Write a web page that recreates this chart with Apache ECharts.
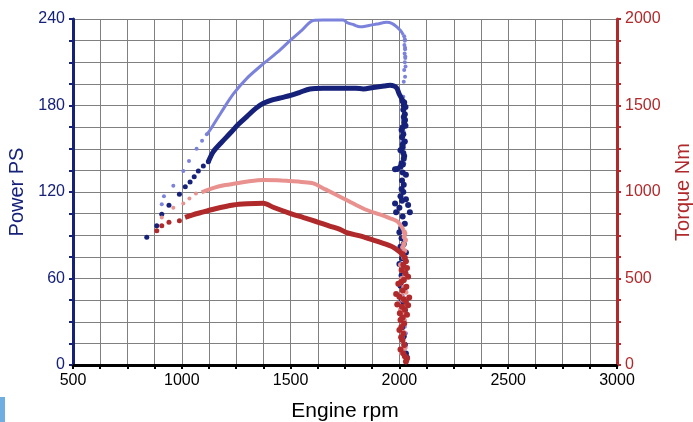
<!DOCTYPE html>
<html>
<head>
<meta charset="utf-8">
<script src="https://cdn.jsdelivr.net/npm/echarts@6/dist/echarts.min.js"></script>
<style>
html,body{margin:0;padding:0;background:#fff;}
#chart{width:693px;height:422px;}
</style>
</head>
<body>
<div id="chart"></div>
<script>
// ---- Axis ranges ----
const rpmRange = [500, 3000, 500];
const powerRange = [0, 240, 60];
const torqueRange = [0, 2000, 500];

// ---- Power run A (dark navy), PS ----
const powerA_start = [[839,88.6],[885,96.6],[908,104.5],[941,110.8],[989,118.4],[1016,123.7],[1038,127],[1057,130.6],[1076,134.5],[1099,138],[1122,141]];
const powerA_curve = [[1122,141],[1145,148],[1180,154],[1222,160.7],[1260,167],[1300,172.5],[1340,178],[1375,181.5],[1420,184],[1460,185.5],[1500,187],[1540,189],[1589,191.5],[1650,192],[1700,192],[1750,192],[1800,192],[1834,191.5],[1880,192.5],[1930,193.5],[1957,194],[1975,193.5],[1988,192],[1999,188],[2008,185.5],[2014,183]];
const powerA_tail = [[2015,183],[2022,182],[2020,180],[2028,179],[2018,177],[2025,174],[2020,172],[2026,170],[2022,168],[2028,166],[2015,165],[2010,163],[2018,160],[2012,158],[2025,155],[2015,153],[2015,151],[2005,149],[2018,147],[2022,145],[2020,143],[2010,140],[2016,139],[2005,137.5],[1980,135.7],[1990,136],[2015,133.5],[2030,132],[2012,128],[2020,125],[2010,122],[2018,120],[2005,117],[2030,115],[2012,114],[1980,112],[2040,111],[2000,109],[1985,106],[2048,106],[2015,103],[2025,98],[2008,95],[2000,92],[2010,88],[2020,84],[2005,82],[2030,78],[2012,74],[2000,70],[2025,67],[2010,62],[2018,59],[2005,55],[2022,52],[2010,46],[2015,43],[2025,38],[2008,36],[2018,31],[2012,26],[2020,20],[2025,14],[2030,8],[2035,5]];

// ---- Power run B (light blue), PS ----
const powerB_start = [[908,111.5],[918,117],[961,124.4],[1007,134.5],[1033,141.5],[1068,150],[1093,155.6],[1115,160]];
const powerB_curve = [[1115,160],[1130,163],[1180,175],[1237,188],[1300,199],[1375,209],[1440,217],[1497,225],[1550,232],[1604,239],[1650,239.3],[1700,239.3],[1742,239.3],[1760,237.5],[1790,236],[1819,234.6],[1860,235.5],[1896,236.5],[1942,237.7],[1965,237],[1988,234.6],[2005,232],[2018,229]];
const powerB_tail = [[2022,228],[2025,226],[2025,225],[2023,222],[2026,220],[2026,219],[2024,216],[2027,214],[2027,213],[2025,210],[2028,207],[2022,204.6],[2026,200],[2020,196.5],[2018,186],[2015,170],[2020,161.8],[2012,155],[2022,140],[2015,120],[2018,98],[2012,80],[2020,64.7],[2010,56.7],[2015,48],[2022,40.4],[2018,34.7],[2025,26.6],[2030,22],[2020,18.7],[2028,12],[2032,6]];

// ---- Torque run B (pink), Nm ----
const torqueB_start = [[908,853],[961,909],[1007,934],[1035,963],[1065,992]];
const torqueB_curve = [[1091,998],[1150,1025],[1200,1040],[1252,1050],[1310,1062],[1375,1069],[1440,1068],[1497,1063],[1550,1058],[1604,1050],[1660,1015],[1727,973],[1790,932],[1850,896],[1910,870],[1957,848],[1990,830],[2010,800],[2018,780]];
const torqueB_tail = [[2022,770],[2025,760],[2022,740],[2028,722],[2020,700],[2015,680],[2025,660],[2010,640],[2020,620],[2030,600],[2005,580],[2018,549],[2025,520],[2010,500],[2000,470],[2020,450],[2030,420],[2008,400],[2015,376],[1995,355],[2025,337],[2005,320],[2018,300],[2010,280],[2022,260],[2015,241],[2005,220],[2020,190],[2012,160],[2018,127],[2025,100],[2010,70],[2030,40],[2035,29]];

// ---- Torque run A (dark red), Nm ----
const torqueA_start = [[885,776],[908,805],[941,825],[989,834]];
const torqueA_curve = [[1015,853],[1050,868],[1084,880],[1150,902],[1237,925],[1300,932],[1375,935],[1420,912],[1497,877],[1560,852],[1620,828],[1680,803],[1727,784],[1758,765],[1819,746],[1880,722],[1926,703],[1960,688],[1980,674],[1995,660],[2011,645]];
const torqueA_tail = [[2015,640],[2025,620],[2030,600],[2018,580],[2035,560],[2010,549],[2028,530],[2040,510],[2020,491],[2008,480],[1995,470],[2032,452],[2015,430],[1985,410],[2000,395],[2045,390],[2020,380],[2030,366],[1990,350],[2040,345],[2012,337],[2025,320],[2002,299],[2035,290],[2015,275],[2005,260],[2022,240],[2010,220],[2000,202],[2018,180],[2008,160],[2014,145],[2022,116],[2005,90],[2018,68],[2025,50],[2035,39],[2030,20]];

const NAVY = '#16217a', LBLUE = '#7b82dc', PINK = '#e8918e', DRED = '#b0292b';
const GRIDC = '#808080';
const FONT = 'Liberation Sans, Arial, sans-serif';
const plain = v => String(v);

const chart = echarts.init(document.getElementById('chart'), null, {renderer:'canvas'});

function lineS(data, color, width, yIdx, z){
  return {type:'line', data, yAxisIndex:yIdx, smooth:0.3, showSymbol:false, clip:false,
    lineStyle:{color, width}, itemStyle:{color}, z, animation:false};
}
function scatS(data, color, size, yIdx, z){
  return {type:'scatter', data, yAxisIndex:yIdx, symbolSize:size, clip:false,
    itemStyle:{color, opacity:1}, z, animation:false};
}

const commonMinor = (color) => ({
  axisTick:{show:true, length:4, lineStyle:{color, width:2}},
  minorTick:{show:true, splitNumber:4, length:4, lineStyle:{color, width:2}}
});

chart.setOption({
  animation:false,
  backgroundColor:'#fff',
  grid:{left:73, right:76, top:19, bottom:57, containLabel:false, outerBoundsMode:'none'},
  graphic:[{type:'rect', left:0, top:397, shape:{width:5, height:25}, style:{fill:'#6eaee0'}}],
  xAxis:{
    type:'value', min:rpmRange[0], max:rpmRange[1], interval:rpmRange[2],
    name:'Engine rpm', nameLocation:'middle', nameGap:36,
    nameTextStyle:{color:'#000', fontSize:21, fontFamily:FONT},
    axisLine:{show:true, lineStyle:{color:'#000', width:3}},
    ...commonMinor('#000'),
    splitLine:{show:true, lineStyle:{color:GRIDC, width:1}},
    minorSplitLine:{show:true, lineStyle:{color:GRIDC, width:1}},
    axisLabel:{color:'#000', fontSize:16, margin:8, fontFamily:FONT, formatter:plain}
  },
  yAxis:[{
    type:'value', min:powerRange[0], max:powerRange[1], interval:powerRange[2],
    name:'Power PS', nameLocation:'middle', nameGap:46, nameRotate:90,
    nameTextStyle:{color:NAVY, fontSize:20, fontFamily:FONT},
    axisLine:{show:true, lineStyle:{color:NAVY, width:3}},
    ...commonMinor(NAVY),
    splitLine:{show:true, lineStyle:{color:GRIDC, width:1}},
    minorSplitLine:{show:true, lineStyle:{color:GRIDC, width:1}},
    axisLabel:{color:NAVY, fontSize:16, margin:8, fontFamily:FONT, formatter:plain}
  },{
    type:'value', position:'right', min:torqueRange[0], max:torqueRange[1], interval:torqueRange[2],
    name:'Torque Nm', nameLocation:'middle', nameGap:56, nameRotate:90,
    nameTextStyle:{color:DRED, fontSize:20, fontFamily:FONT},
    axisLine:{show:true, lineStyle:{color:DRED, width:3}},
    ...commonMinor(DRED),
    splitLine:{show:false},
    axisLabel:{color:DRED, fontSize:16, margin:8, fontFamily:FONT, formatter:plain}
  }],
  series:[
    lineS(powerB_curve, LBLUE, 3, 0, 2),
    scatS(powerB_start, LBLUE, 4, 0, 2),
    scatS(powerB_tail, LBLUE, 4, 0, 2),
    lineS(powerA_curve, NAVY, 5, 0, 3),
    scatS(powerA_start, NAVY, 5, 0, 3),
    scatS(powerA_tail, NAVY, 6, 0, 3),
    lineS(torqueB_curve, PINK, 4, 1, 4),
    scatS(torqueB_start, PINK, 4, 1, 4),
    scatS(torqueB_tail, PINK, 5, 1, 4),
    lineS(torqueA_curve, DRED, 5, 1, 5),
    scatS(torqueA_start, DRED, 5, 1, 5),
    scatS(torqueA_tail, DRED, 6, 1, 5)
  ]
});
</script>
</body>
</html>
